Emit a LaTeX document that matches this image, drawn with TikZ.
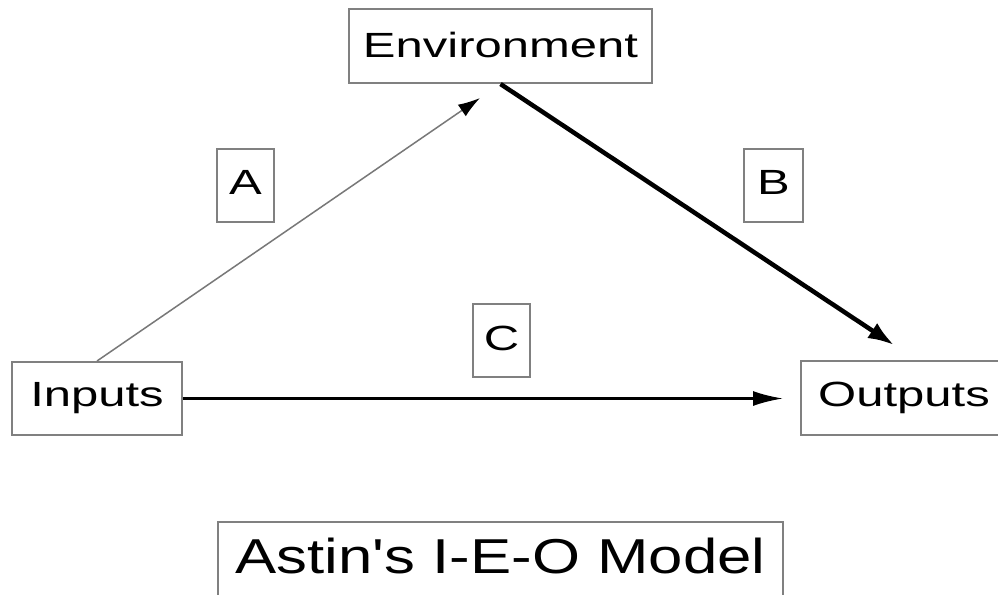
\documentclass[tikz,border=0pt]{standalone}
\usepackage{fontspec}
\newfontfamily\lblfont[FakeStretch=1.4]{Liberation Sans}
\newfontfamily\ttlfont[FakeStretch=1.26]{Liberation Sans}
\usetikzlibrary{arrows.meta}
\definecolor{boxgray}{RGB}{128,128,128}
\definecolor{linegray}{RGB}{120,120,120}
\begin{document}
\begin{tikzpicture}[x=1pt,y=-1pt,
  box/.style={draw=boxgray, line width=2pt, inner sep=0pt, text height=25pt,
    font={\lblfont\fontsize{35}{40}\selectfont}},
  letterbox/.style={box, minimum width=57pt, minimum height=73pt, text depth=7pt},
  thinarrow/.style={draw=linegray, line width=1.5pt, -{Latex[length=22pt,width=14pt,black]}},
  thickarrow/.style={line width=4.5pt, -{Latex[length=26pt,width=18pt]}},
  midarrow/.style={line width=2.5pt, -{Latex[length=30pt,width=15pt]}}]
\clip (0,0) rectangle (998,594);
\fill[white] (0,0) rectangle (998,594);
\node[box, minimum width=303pt, minimum height=74pt, text depth=3pt] (env) at (500.5,46) {Environment};
\node[letterbox] (a) at (245.5,185.5) {A};
\node[letterbox, minimum width=59pt] (b) at (773.5,185.5) {B};
\node[letterbox, text depth=6pt] (c) at (501.5,340.5) {C};
\node[box, minimum width=170pt, minimum height=73pt, text depth=10pt] (in) at (97,398.5) {Inputs};
\node[box, minimum width=206pt, minimum height=74pt, text depth=9pt] (out) at (904,398) {Outputs};
\node[box, anchor=base, minimum width=565pt, inner sep=0pt, text height=51pt, text depth=27pt,
  font={\ttlfont\fontsize{49}{56}\selectfont}] (title) at (500.5,573) {Astin's I-E-O Model\hspace{16pt}};
\coordinate (atip) at (480,98);
\coordinate (btip) at (894,345);
\coordinate (ctip) at (783,398.5);
\draw[thinarrow] (in.north) -- (atip);
\draw[thickarrow] (env.south) -- (btip);
\draw[midarrow] (in.east) -- (ctip);
\end{tikzpicture}
\end{document}
